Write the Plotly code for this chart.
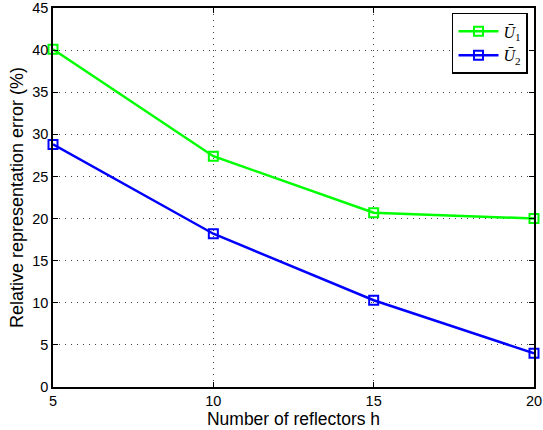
import plotly.graph_objects as go

reflectors = [5, 10, 15, 20]
u1_error = [40.1, 27.4, 20.7, 20.0]
u2_error = [28.8, 18.2, 10.3, 4.0]

fig = go.Figure()
fig.add_trace(go.Scatter(
    x=reflectors, y=u1_error, mode='lines+markers',
    name='<i>Ū</i><sub>1</sub>',
    line=dict(color='#00ff00', width=2.5),
    marker=dict(symbol='square-open', size=9, color='#00ff00', line=dict(width=2)),
    cliponaxis=False,
))
fig.add_trace(go.Scatter(
    x=reflectors, y=u2_error, mode='lines+markers',
    name='<i>Ū</i><sub>2</sub>',
    line=dict(color='#0000ff', width=2.5),
    marker=dict(symbol='square-open', size=9, color='#0000ff', line=dict(width=2)),
    cliponaxis=False,
))

axis_style = dict(
    showline=True, linecolor='black', linewidth=1.5, mirror='ticks',
    ticks='inside', ticklen=5, tickcolor='black',
    showgrid=True, gridcolor='#444444', griddash='1px,5px', gridwidth=1,
    zeroline=False, tickfont=dict(size=14.5, color='black'), automargin=False,
    ticklabeloverflow='allow',
)

fig.update_xaxes(range=[5, 20], tickvals=[5, 10, 15, 20],
                 title=dict(text='Number of reflectors h', font=dict(size=17.5, color='black'), standoff=1),
                 **axis_style)
fig.update_yaxes(range=[0, 45], dtick=5,
                 title=dict(text='Relative representation error (%)', font=dict(size=18, color='black'), standoff=4),
                 **axis_style)

fig.update_layout(
    width=543, height=430,
    margin=dict(l=53, r=9, t=8, b=43, autoexpand=False),
    paper_bgcolor='white', plot_bgcolor='white',
    font=dict(family='Liberation Sans, Arial, sans-serif', color='black'),
    legend=dict(x=0.9875, y=0.987, xanchor='right', yanchor='top',
                bgcolor='white', bordercolor='black', borderwidth=1.5,
                font=dict(size=16, family='Liberation Serif, serif'),
                itemwidth=40, tracegroupgap=0),
    showlegend=True,
)

# page body has a default 8px margin; drop it so the figure sits at the corner
fig.write_html("out.html", config={'displayModeBar': False},
               post_script="document.body.style.margin='0';")
